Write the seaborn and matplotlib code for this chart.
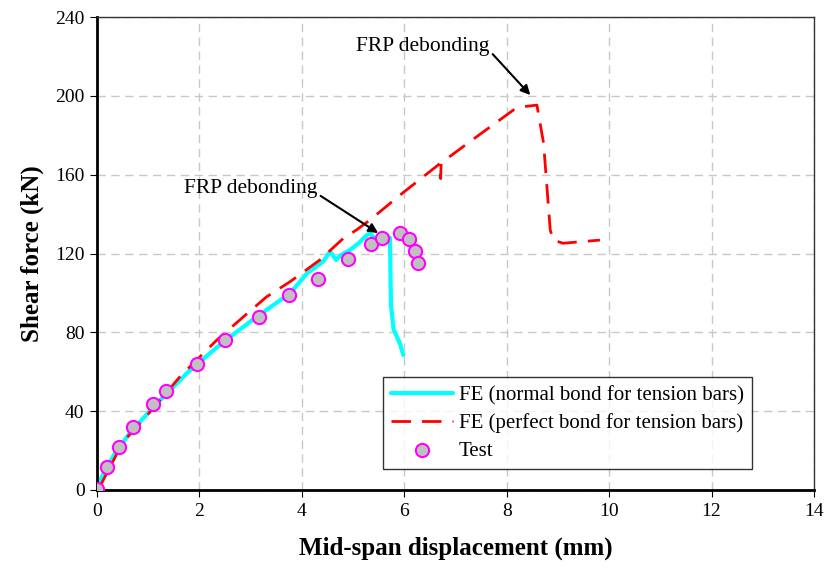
import numpy as np
import pandas as pd
import seaborn as sns
import matplotlib.pyplot as plt

# FE model, normal bond for tension bars
fe_normal_x = [0, 0.06, 0.35, 0.64, 1.17, 1.82, 2.47, 3.12, 3.77, 4.10, 4.42, 4.55,
               4.67, 4.75, 4.94, 5.10, 5.27, 5.33, 5.45, 5.60, 5.72, 5.74, 5.79, 5.92, 5.98]
fe_normal_y = [0, 5, 18.7, 28.9, 44, 60.9, 75.2, 87.9, 99.8, 109.9, 116, 121,
               116.7, 119, 121.8, 125, 129.4, 130.2, 127, 128, 128, 94, 81.5, 74, 68.5]

# FE model, perfect bond for tension bars
fe_perfect_x = [0, 0.09, 0.51, 0.90, 1.62, 2.01, 2.34, 2.86, 3.31, 3.77, 4.35, 4.81,
                5.07, 5.33, 5.92, 6.70, 6.71, 6.72, 7.40, 8.13, 8.33, 8.59, 8.72,
                8.85, 8.91, 9.10, 9.82]
fe_perfect_y = [0, 3.4, 24.5, 35.5, 57.5, 67.6, 76.1, 87.9, 98, 105.7, 116.7, 127.7,
                132, 137, 149.7, 165.7, 158, 166, 179, 192.8, 194.5, 195.3, 175.9,
                131.9, 126.8, 125.2, 126.8]

# test results
test_x = [0, 0.19, 0.42, 0.70, 1.09, 1.35, 1.95, 2.49, 3.17, 3.74, 4.32, 4.90,
          5.35, 5.57, 5.92, 6.09, 6.21, 6.27]
test_y = [0.7, 11.5, 22.0, 32.1, 43.8, 50.4, 63.8, 76.3, 87.9, 98.8, 107.1, 117.1,
          124.8, 127.7, 130.2, 127.2, 121.1, 115.3]

df_normal = pd.DataFrame({'x': fe_normal_x, 'y': fe_normal_y})
df_perfect = pd.DataFrame({'x': fe_perfect_x, 'y': fe_perfect_y})
df_test = pd.DataFrame({'x': test_x, 'y': test_y})

sns.set_style('white')
plt.rcParams['font.family'] = ['Liberation Serif', 'DejaVu Serif']
plt.rcParams['text.color'] = 'black'
plt.rcParams['axes.labelcolor'] = 'black'
plt.rcParams['xtick.color'] = 'black'
plt.rcParams['ytick.color'] = 'black'

fig = plt.figure(figsize=(8.24, 5.68), dpi=100)
ax = fig.add_axes([97 / 824, 78 / 568, 717 / 824, 473 / 568])

sns.lineplot(data=df_normal, x='x', y='y', sort=False, ax=ax, color='#00ffff',
             linewidth=3, label='FE (normal bond for tension bars)')
sns.lineplot(data=df_perfect, x='x', y='y', sort=False, ax=ax, color='#ff0000',
             linewidth=2, label='FE (perfect bond for tension bars)')
ax.lines[-1].set_dashes((7, 4))
sns.scatterplot(data=df_test, x='x', y='y', ax=ax, color='#c0c0c0', edgecolor='#ff00ff',
                linewidth=1.5, s=90, zorder=5, label='Test')

ax.set_xlim(0, 14)
ax.set_ylim(0, 240)
ax.set_xticks(range(0, 15, 2))
ax.set_yticks(range(0, 241, 40))
ax.grid(True, color='#c8c8c8', linestyle=(0, (6, 4)), linewidth=1)
ax.tick_params(axis='both', labelsize=14, length=5, direction='out', pad=4)
ax.tick_params(left=True, bottom=True)

for side in ['left', 'bottom']:
    ax.spines[side].set_color('black')
    ax.spines[side].set_linewidth(2)
for side in ['top', 'right']:
    ax.spines[side].set_color('#333333')
    ax.spines[side].set_linewidth(1)

ax.set_xlabel('Mid-span displacement (mm)', fontsize=18, fontweight='bold', labelpad=12)
ax.set_ylabel('Shear force (kN)', fontsize=18, fontweight='bold', labelpad=8)

ax.annotate('FRP debonding', xy=(8.46, 200.4), xytext=(6.36, 224.9),
            fontsize=15.5, ha='center', va='center',
            arrowprops=dict(arrowstyle='-|>', color='black', lw=1.5,
                            shrinkA=0, shrinkB=0, mutation_scale=14,
                            relpos=(1.0, 0.3)))
ax.annotate('FRP debonding', xy=(5.49, 130.4), xytext=(3.0, 153.2),
            fontsize=15.5, ha='center', va='center',
            arrowprops=dict(arrowstyle='-|>', color='black', lw=1.5,
                            shrinkA=0, shrinkB=0, mutation_scale=14,
                            relpos=(1.0, 0.2)))

leg = ax.legend(loc='lower right', bbox_to_anchor=((752 - 97) / 717, 21 / 473),
                fontsize=15, frameon=True, fancybox=False, handlelength=3.0,
                borderpad=0.4, labelspacing=0.38, handletextpad=0.25, borderaxespad=0)
leg.get_frame().set_edgecolor('black')
leg.get_frame().set_linewidth(1)

fig.savefig('out.png', dpi=100)
